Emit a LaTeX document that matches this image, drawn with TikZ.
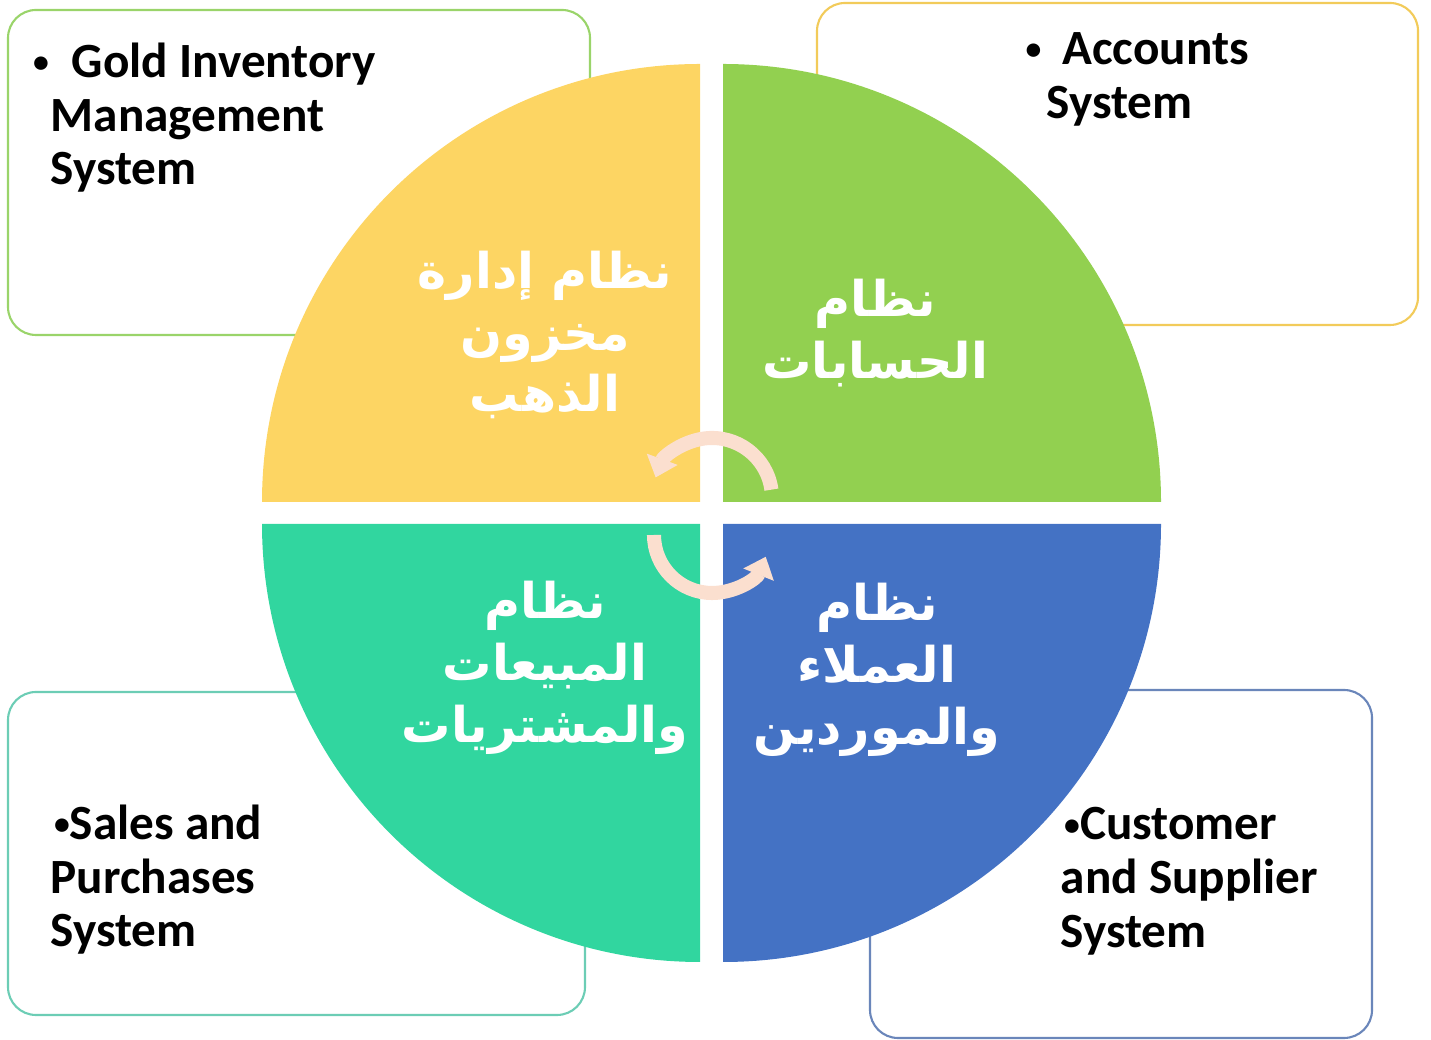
\documentclass[tikz,border=0pt]{standalone}
\usepackage{fontspec}
\setmainfont{Carlito}
\newfontfamily\arabicfont[Script=Arabic]{DejaVu Sans}
\TeXXeTstate=1
\usetikzlibrary{positioning, arrows.meta}

\definecolor{quadgold}{HTML}{FDD563}
\definecolor{quadgreen}{HTML}{92D050}
\definecolor{quadteal}{HTML}{31D69F}
\definecolor{quadblue}{HTML}{4472C4}
\definecolor{edgegreen}{HTML}{9AD46A}
\definecolor{edgegold}{HTML}{F2CB5A}
\definecolor{edgeteal}{HTML}{6CCDB5}
\definecolor{edgeblue}{HTML}{6A86BA}
\definecolor{peach}{HTML}{FBDFCF}

\newcommand{\dotmark}{\raisebox{1.4pt}{\fontsize{9}{9}\selectfont•}}

\begin{document}
\begin{tikzpicture}[x=0.01cm, y=0.01cm,
    infobox/.style={line width=0.6pt, rounded corners=0.28cm, fill=white},
    engtext/.style={anchor=north west, align=left, inner sep=0pt,
      font=\fontsize{14}{15.3}\selectfont\bfseries},
    arabtext/.style={align=center, text=white, inner sep=0pt,
      font=\arabicfont\bfseries\fontsize{14}{17.6}\selectfont},
    turnarrow/.style={draw=peach, line width=4pt, -{Triangle[width=9pt, length=5.5pt]}}]
  \useasboundingbox (0,0) rectangle (1431,1040);

  % outer boxes
  \draw[infobox, draw=edgegreen] (8,705) rectangle (590,1030);
  \draw[infobox, draw=edgegold] (817,715) rectangle (1418,1037);
  \draw[infobox, draw=edgeteal] (8,25) rectangle (585,348);
  \draw[infobox, draw=edgeblue] (870,2) rectangle (1372,350);

  % four quarters of the wheel
  \coordinate (hub) at (712,527);
  \fill[quadgold] (700,538) -- ++(-438,0) arc (180:90:438) -- cycle;
  \fill[quadgreen] (723,538) -- ++(0,438) arc (90:0:438) -- cycle;
  \fill[quadteal] (700,516) -- ++(0,-438) arc (270:180:438) -- cycle;
  \fill[quadblue] (723,516) -- ++(438,0) arc (0:-90:438) -- cycle;

  % Arabic labels
  \node[arabtext] (goldar) at (545,705) {\beginR نظام إدارة\endR\\\beginR مخزون\endR\\\beginR الذهب\endR};
  \node[arabtext] (accar) at (875,707) {\beginR نظام\endR\\\beginR الحسابات\endR};
  \node[arabtext] (salesar) at (545,372) {\beginR نظام\endR\\\beginR المبيعات\endR\\\beginR والمشتريات\endR};
  \node[arabtext] (custar) at (877,370) {\beginR نظام\endR\\\beginR العملاء\endR\\\beginR والموردين\endR};

  % English labels
  \node[engtext] (golden) at (50,998) {\hspace*{-5pt}\dotmark\hspace{6.5pt}Gold Inventory\\Management\\System};
  \node[engtext] (accen) at (1046,1008) {\hspace*{-6pt}\dotmark\hspace{6pt}Accounts\\System};
  \node[engtext] (salesen) at (50,236) {\hspace*{1pt}\dotmark Sales and\\Purchases\\System};
  \node[engtext] (custen) at (1060,233) {\hspace*{1pt}\dotmark Customer\\and Supplier\\System};

  % turning arrows in the middle
  \coordinate (uparc) at (712,542);
  \coordinate (lowarc) at (712,505);
  \draw[turnarrow] ([shift={(8:60)}]uparc) arc (8:160:60);
  \draw[turnarrow] ([shift={(180:58)}]lowarc) arc (180:338:58);
\end{tikzpicture}
\end{document}
